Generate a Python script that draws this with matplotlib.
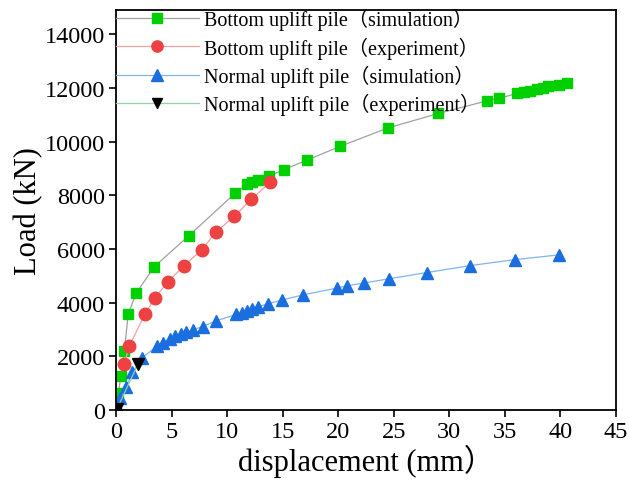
import matplotlib
matplotlib.use("Agg")
import matplotlib.pyplot as plt

plt.rcParams['font.family'] = ['Liberation Serif', 'Noto Sans CJK SC', 'DejaVu Sans']

# Bottom uplift pile (simulation)
bs_x = [0.2, 0.45, 0.75, 1.1, 1.8, 3.45, 6.55, 10.75, 11.8, 12.2, 12.8, 13.75, 15.1, 17.2,
        20.2, 24.5, 29.0, 33.4, 34.5, 36.1, 36.7, 37.3, 37.9, 38.4, 38.9, 39.9, 40.6]
bs_y = [620, 1270, 2210, 3570, 4340, 5340, 6490, 8085, 8410, 8480, 8560, 8710, 8955, 9310,
        9825, 10510, 11045, 11517, 11616, 11790, 11840, 11900, 11950, 12000, 12060, 12115, 12190]

# Bottom uplift pile (experiment)
be_x = [0.75, 1.2, 2.6, 3.5, 4.68, 6.1, 7.72, 8.97, 10.64, 12.18, 13.87]
be_y = [1730, 2380, 3570, 4180, 4770, 5370, 5965, 6617, 7214, 7848, 8483]

# Normal uplift pile (simulation)
ns_x = [0.1, 0.4, 0.94, 1.48, 2.37, 3.7, 4.2, 4.84, 5.34, 5.83, 6.32, 6.92, 7.8, 9.0, 10.82,
        11.31, 11.76, 12.2, 12.8, 13.64, 14.97, 16.85, 19.86, 20.8, 22.33, 24.6, 27.97, 31.9,
        35.87, 39.9]
ns_y = [150, 450, 860, 1400, 1950, 2380, 2500, 2640, 2740, 2830, 2890, 2990, 3110, 3320, 3560,
        3630, 3700, 3760, 3850, 3950, 4100, 4290, 4540, 4630, 4730, 4890, 5120, 5380,
        5600, 5780]

# Normal uplift pile (experiment)
ne_x = [0.1, 2.0]
ne_y = [50, 1730]

labels = ['Bottom uplift pile（simulation）', 'Bottom uplift pile（experiment）',
          'Normal uplift pile（simulation）', 'Normal uplift pile（experiment）']

xticks = [0, 5, 10, 15, 20, 25, 30, 35, 40, 45]
yticks = [0, 2000, 4000, 6000, 8000, 10000, 12000, 14000]

fig = plt.figure(figsize=(6.29, 4.89), dpi=100)
ax = fig.add_axes([116/629, 1-411/489, 500/629, 400/489])

ax.plot(bs_x, bs_y, color='#a0a0a0', lw=0.9, marker='s', ms=7.5, mfc='#00d000',
        mec='#00d000', label=labels[0])
ax.plot(be_x, be_y, color='#f6a0a0', lw=0.9, marker='o', ms=9, mfc='#ee4242',
        mec='#ee4242', label=labels[1])
ax.plot(ns_x, ns_y, color='#80b4ee', lw=0.9, marker='^', ms=9, mfc='#1a6ede',
        mec='#1a6ede', label=labels[2])
ax.plot(ne_x, ne_y, color='#8fd4a8', lw=0.9, marker='v', ms=8, mfc='black',
        mec='black', label=labels[3])

ax.set_xlim(0, 45)
ax.set_ylim(0, 14900)
ax.set_xticks(xticks)
ax.set_yticks(yticks)
ax.tick_params(direction='out', length=5, width=1.2, labelsize=17.5, pad=3)
for s in ax.spines.values():
    s.set_linewidth(1.3)

ax.set_xlabel('displacement (mm）', fontsize=22, labelpad=1)
ax.set_ylabel('Load (kN)', fontsize=22, labelpad=1)

leg = ax.legend(loc='upper left', bbox_to_anchor=(0, 1.005), frameon=False, fontsize=14.5,
                handlelength=4.1, handletextpad=0.25, borderpad=0, borderaxespad=0,
                labelspacing=0.3, markerscale=0.9)

fig.savefig('out.png', dpi=100)
